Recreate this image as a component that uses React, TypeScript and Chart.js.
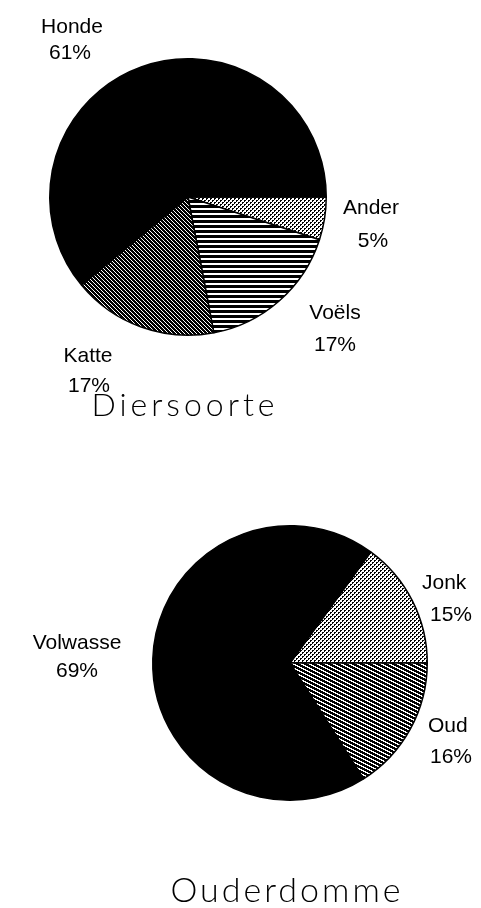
import React, { useEffect, useRef } from "react";
import { Chart, registerables } from "chart.js";

Chart.register(...registerables);

// ---- data ----
const animalLabels = ["Ander", "Voëls", "Katte", "Honde"];
const animalValues = [5, 17, 17, 61];
const animalTitle = "Diersoorte";

const ageLabels = ["Jonk", "Oud", "Volwasse"];
const ageValues = [15, 16, 69];
const ageTitle = "Ouderdomme";

// ---- patterns ----
function makeTile(w: number, h: number, isBlack: (x: number, y: number) => boolean) {
  const c = document.createElement("canvas");
  c.width = w;
  c.height = h;
  const g = c.getContext("2d")!;
  g.fillStyle = "#fff";
  g.fillRect(0, 0, w, h);
  g.fillStyle = "#000";
  for (let y = 0; y < h; y++) for (let x = 0; x < w; x++) if (isBlack(x, y)) g.fillRect(x, y, 1, 1);
  return g.createPattern(c, "repeat")!;
}

function patterns() {
  return {
    solid: "#000",
    dots: makeTile(4, 4, (x, y) =>
      (x < 2 && y < 2 && !(x === 1 && y === 1)) || (x >= 2 && y >= 2 && !(x === 3 && y === 3))
    ),
    horiz: makeTile(4, 5, (_x, y) => y < 3),
    diag: makeTile(4, 4, (x, y) => ((x - y + 8) % 4) < 3),
    shallow: makeTile(8, 4, (x, y) => ((2 * y - x + 16) % 8) < 5),
  };
}

type LabelCfg = { dx: number; dy: number; align: CanvasTextAlign }[];

const labelPlugin = {
  id: "pieLabels",
  afterDraw(chart: any, _args: any, opts: any) {
    const ctx: CanvasRenderingContext2D = chart.ctx;
    const meta = chart.getDatasetMeta(0);
    const values: number[] = chart.data.datasets[0].data;
    const total = values.reduce((a, b) => a + b, 0);
    const names: string[] = chart.data.labels;
    const cfg: LabelCfg[] = opts.placements;
    ctx.save();
    if (opts.clipX) {
      ctx.beginPath();
      ctx.rect(0, 0, opts.clipX, chart.height);
      ctx.clip();
    }
    ctx.fillStyle = "#000";
    ctx.textBaseline = "middle";
    ctx.font = "21px 'Liberation Sans', Arial, sans-serif";
    meta.data.forEach((arc: any, i: number) => {
      const p = cfg[i];
      const pct = Math.round((values[i] / total) * 100) + "%";
      ctx.textAlign = p[0].align;
      ctx.fillText(names[i], arc.x + p[0].dx, arc.y + p[0].dy);
      ctx.textAlign = p[1].align;
      ctx.fillText(pct, arc.x + p[1].dx, arc.y + p[1].dy);
    });
    ctx.restore();
    // title
    const a = meta.data[0];
    ctx.save();
    ctx.fillStyle = "#000";
    ctx.textAlign = "center";
    ctx.textBaseline = "middle";
    ctx.font = opts.titleFont;
    (ctx as any).letterSpacing = opts.letterSpacing;
    ctx.fillText(opts.title, a.x + opts.titleDx, a.y + opts.titleDy);
    ctx.restore();
  },
};

function PieCanvas(props: {
  labels: string[];
  values: number[];
  fills: string[];
  rotation: number;
  padding: { left: number; right: number; top: number; bottom: number };
  placements: LabelCfg[];
  title: string;
  titleDx: number;
  titleDy: number;
  titleFont: string;
  letterSpacing: string;
  clipX?: number;
  top: number;
}) {
  const ref = useRef<HTMLCanvasElement>(null);
  useEffect(() => {
    const p = patterns() as any;
    const chart = new Chart(ref.current!, {
      type: "pie",
      data: {
        labels: props.labels,
        datasets: [
          {
            data: props.values,
            backgroundColor: props.fills.map((f) => p[f]),
            borderColor: "#000",
            borderWidth: 1.5,
          },
        ],
      },
      options: {
        responsive: false,
        animation: false,
        rotation: props.rotation,
        layout: { padding: props.padding },
        plugins: {
          legend: { display: false },
          tooltip: { enabled: false },
          pieLabels: {
            placements: props.placements,
            title: props.title,
            titleDx: props.titleDx,
            titleDy: props.titleDy,
            titleFont: props.titleFont,
            letterSpacing: props.letterSpacing,
            clipX: props.clipX,
          },
        } as any,
      },
      plugins: [labelPlugin],
    });
    return () => chart.destroy();
  }, []);
  return (
    <canvas
      ref={ref}
      width={481}
      height={454}
      style={{ position: "absolute", left: 0, top: props.top, width: 481, height: 454 }}
    />
  );
}

export default function App() {
  return (
    <div style={{ position: "absolute", left: 0, top: 0, width: 481, height: 908, background: "#fff" }}>
      <PieCanvas
        top={0}
        labels={animalLabels}
        values={animalValues}
        fills={["dots", "horiz", "diag", "solid"]}
        rotation={90}
        padding={{ left: 49, top: 58, right: 154, bottom: 118 }}
        placements={[
          [{ dx: 183, dy: 11, align: "center" }, { dx: 185, dy: 44, align: "center" }],
          [{ dx: 147, dy: 116, align: "center" }, { dx: 147, dy: 148, align: "center" }],
          [{ dx: -100, dy: 159, align: "center" }, { dx: -99, dy: 189, align: "center" }],
          [{ dx: -116, dy: -170, align: "center" }, { dx: -118, dy: -144, align: "center" }],
        ]}
        title={animalTitle}
        titleDx={-3}
        titleDy={209}
        titleFont="300 32px Lato, 'Liberation Sans', sans-serif"
        letterSpacing="4px"
      />
      <PieCanvas
        top={454}
        labels={ageLabels}
        values={ageValues}
        fills={["dots", "shallow", "solid"]}
        rotation={36}
        padding={{ left: 152, top: 71, right: 53, bottom: 107 }}
        placements={[
          [{ dx: 132, dy: -80, align: "left" }, { dx: 140, dy: -48, align: "left" }],
          [{ dx: 138, dy: 63, align: "left" }, { dx: 140, dy: 94, align: "left" }],
          [{ dx: -213, dy: -20, align: "center" }, { dx: -213, dy: 8, align: "center" }],
        ]}
        title={ageTitle}
        titleDx={-3}
        titleDy={228}
        titleFont="300 34px Lato, 'Liberation Sans', sans-serif"
        letterSpacing="3px"
        clipX={473}
      />
    </div>
  );
}
